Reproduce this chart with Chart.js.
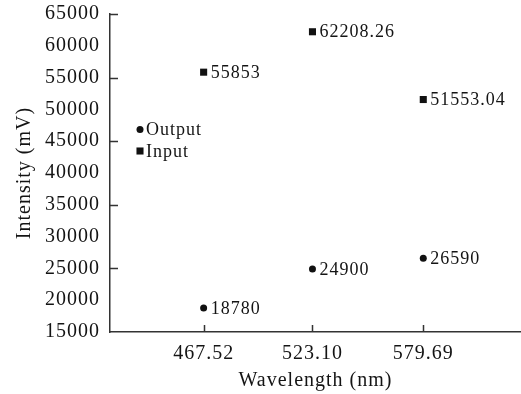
<!DOCTYPE html>
<html>
<head>
<meta charset="utf-8">
<script src="https://cdn.jsdelivr.net/npm/chart.js@4/dist/chart.umd.min.js"></script>
<style>
  html, body { margin: 0; padding: 0; background: #ffffff; }
  #wrap { width: 521px; height: 394px; }
</style>
</head>
<body>
<div id="wrap"><canvas id="c" width="521" height="394"></canvas></div>
<script>
// Wavelength categories (nm) and the measured intensities (mV)
const wavelengthLabels = ['467.52', '523.10', '579.69'];
const inputValues = [55853, 62208.26, 51553.04];
const outputValues = [18780, 24900, 26590];
// Y values that carry a short tick mark on the axis
const yTickMarks = [25000, 35000, 45000, 55000, 65000];

const wavelengths = wavelengthLabels.map(parseFloat);
const FONT = "'Liberation Serif', 'Times New Roman', serif";
const INK = '#141414';
const AXIS = '#333333';

// Canvas letter spacing for the wide serif look
const spacing = {
  id: 'spacing',
  beforeLayout(chart) { chart.ctx.letterSpacing = '1px'; },
  beforeDraw(chart) { chart.ctx.letterSpacing = '1px'; }
};

// Short inward tick marks on both axes
const innerTicks = {
  id: 'innerTicks',
  afterDraw(chart) {
    const { ctx, chartArea, scales: { x, y } } = chart;
    ctx.save();
    ctx.strokeStyle = AXIS;
    ctx.lineWidth = 1.5;
    ctx.beginPath();
    wavelengths.forEach(w => {
      const px = Math.round(x.getPixelForValue(w)) + 0.5;
      ctx.moveTo(px, chartArea.bottom);
      ctx.lineTo(px, chartArea.bottom - 7);
    });
    yTickMarks.forEach(v => {
      const py = Math.round(y.getPixelForValue(v)) + 0.5;
      ctx.moveTo(chartArea.left, py);
      ctx.lineTo(chartArea.left + 8, py);
    });
    ctx.stroke();
    ctx.restore();
  }
};

// Value written to the right of each marker
const valueLabels = {
  id: 'valueLabels',
  afterDatasetsDraw(chart) {
    const { ctx } = chart;
    ctx.save();
    ctx.font = '18px ' + FONT;
    ctx.fillStyle = INK;
    ctx.textAlign = 'left';
    ctx.textBaseline = 'middle';
    chart.data.datasets.forEach((ds, i) => {
      chart.getDatasetMeta(i).data.forEach((pt, j) => {
        ctx.fillText(String(ds.data[j].y), pt.x + 7, pt.y + 1);
      });
    });
    ctx.restore();
  }
};

// Legend inside the plot, upper left
const innerLegend = {
  id: 'innerLegend',
  afterDraw(chart) {
    const { ctx, chartArea } = chart;
    const order = [1, 0];
    ctx.save();
    ctx.font = '18px ' + FONT;
    ctx.textAlign = 'left';
    ctx.textBaseline = 'middle';
    order.forEach((di, k) => {
      const ds = chart.data.datasets[di];
      const mx = chartArea.left + 30;
      const my = chartArea.top + 115.5 + k * 21.5;
      ctx.fillStyle = ds.backgroundColor;
      Chart.helpers.drawPoint(ctx, {
        pointStyle: ds.pointStyle, radius: ds.pointRadius, rotation: 0, borderWidth: 0
      }, mx, my);
      ctx.fillStyle = INK;
      ctx.fillText(ds.label, mx + 6, my + 1);
    });
    ctx.restore();
  }
};

new Chart(document.getElementById('c'), {
  type: 'scatter',
  data: {
    datasets: [
      {
        label: 'Input',
        data: wavelengths.map((w, i) => ({ x: w, y: inputValues[i] })),
        pointStyle: 'rect',
        pointRadius: 5,
        pointHoverRadius: 5,
        backgroundColor: '#111111',
        borderWidth: 0
      },
      {
        label: 'Output',
        data: wavelengths.map((w, i) => ({ x: w, y: outputValues[i] })),
        pointStyle: 'circle',
        pointRadius: 3.5,
        pointHoverRadius: 3.5,
        backgroundColor: '#111111',
        borderWidth: 0
      }
    ]
  },
  options: {
    responsive: false,
    animation: false,
    devicePixelRatio: 1,
    layout: { autoPadding: false, padding: { top: 14, right: 0, bottom: 0, left: 0 } },
    plugins: {
      legend: { display: false },
      tooltip: { enabled: false }
    },
    scales: {
      x: {
        type: 'linear',
        min: 419.7,
        max: 629.6,
        afterBuildTicks(scale) {
          scale.ticks = wavelengths.map(v => ({ value: v }));
        },
        afterFit(scale) { scale.height = 62; },
        grid: { display: false, drawTicks: false },
        border: { display: true, color: AXIS, width: 1.5 },
        ticks: {
          autoSkip: false,
          maxRotation: 0,
          padding: 10,
          color: INK,
          font: { family: FONT, size: 20 },
          callback: (value, index) => wavelengthLabels[index]
        },
        title: {
          display: true,
          text: 'Wavelength (nm)',
          color: INK,
          font: { family: FONT, size: 20 },
          padding: { top: 0, bottom: 1 }
        }
      },
      y: {
        min: 15000,
        max: 65000,
        afterFit(scale) {
          scale.width = 110;
          scale.paddingTop = 0;
          scale.paddingBottom = 0;
        },
        grid: { display: false, drawTicks: false },
        border: { display: true, color: AXIS, width: 1.5 },
        ticks: {
          stepSize: 5000,
          padding: 10,
          color: INK,
          font: { family: FONT, size: 20 },
          callback: v => String(v)
        },
        title: {
          display: true,
          text: 'Intensity (mV)',
          color: INK,
          font: { family: FONT, size: 20 },
          padding: { top: 13, bottom: 0 }
        }
      }
    }
  },
  plugins: [spacing, innerTicks, valueLabels, innerLegend]
});
</script>
</body>
</html>
